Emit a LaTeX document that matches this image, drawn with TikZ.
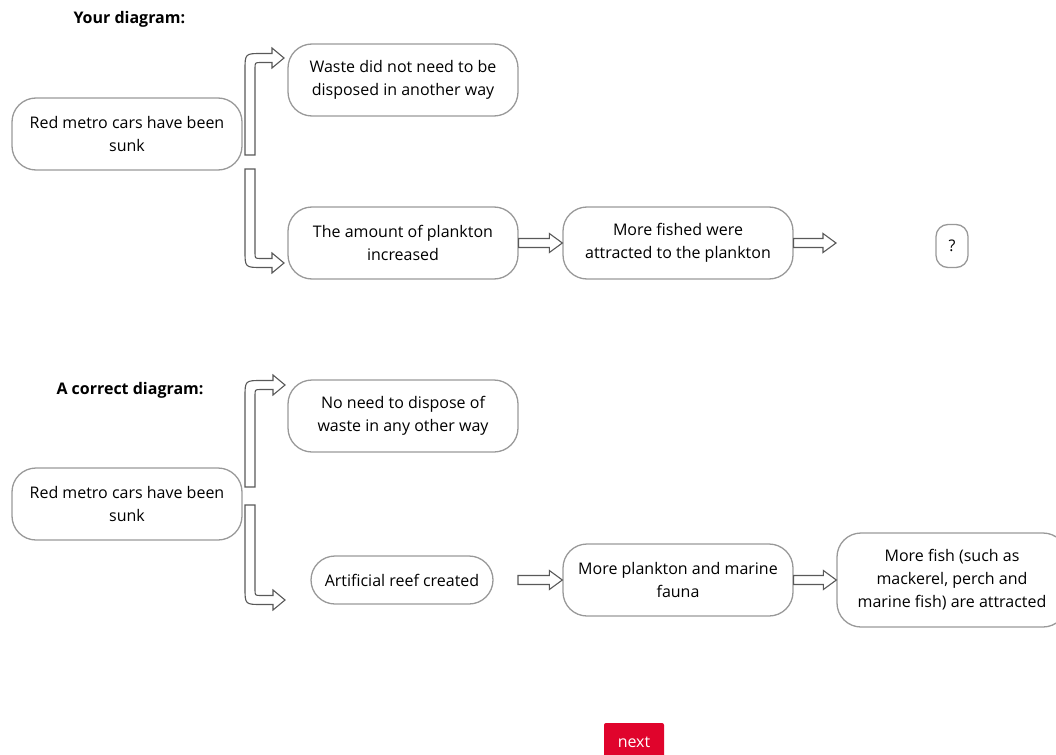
\documentclass[tikz,border=0pt]{standalone}
\usepackage{fontspec}
\setmainfont{Open Sans}
\usetikzlibrary{calc}
\definecolor{btnred}{RGB}{224,4,44}
\tikzset{
  box/.style={draw=gray!80, line width=1.3pt, rounded corners=24pt, align=center,
    minimum width=230pt, minimum height=72pt, inner sep=0pt,
    font=\fontsize{16}{23}\selectfont},
  title/.style={anchor=west, font=\bfseries\fontsize{16}{18}\selectfont},
  hollow/.style={draw=gray!70!black, line width=1.1pt, fill=white}
}
% полая стрелка
\newcommand\blockarrow[2]{%
  \draw[hollow] let \p1=(#1), \p2=(#2) in
    (\x1,{\y1+4.5pt}) -- ({\x2-13pt},{\y1+4.5pt}) -- ({\x2-13pt},{\y1+9.5pt}) -- (\x2,\y1)
    -- ({\x2-13pt},{\y1-9.5pt}) -- ({\x2-13pt},{\y1-4.5pt}) -- (\x1,{\y1-4.5pt}) -- cycle;}
% изогнутая стрелка, #3 = 1 вверх, -1 вниз
\newcommand\bentarrow[3]{%
  \draw[hollow] let \p1=(#1), \p2=(#2) in
    ({\x1-5pt},\y1) -- ({\x1-5pt},{\y2+(#3)*(4.5pt-17pt)})
    .. controls ({\x1-5pt},{\y2+(#3)*4.5pt}) .. ({\x1+12pt},{\y2+(#3)*4.5pt})
    -- ({\x2-12pt},{\y2+(#3)*4.5pt}) -- ({\x2-12pt},{\y2+(#3)*10pt}) -- (\x2,\y2)
    -- ({\x2-12pt},{\y2-(#3)*10pt}) -- ({\x2-12pt},{\y2-(#3)*4.5pt})
    -- ({\x1+11pt},{\y2-(#3)*4.5pt})
    .. controls ({\x1+5pt},{\y2-(#3)*4.5pt}) .. ({\x1+5pt},{\y2-(#3)*10.5pt})
    -- ({\x1+5pt},\y1) -- cycle;}
\begin{document}
\begin{tikzpicture}[x=1pt,y=-1pt]
\useasboundingbox (0,0) rectangle (1056,754);
%ваша схема
\node[title] (t1) at (70,19) {Your diagram:};
\node[box] (A1) at (127,134) {Red metro cars have been\\sunk};
\node[box] (A2) at (403,80) {Waste did not need to be\\disposed in another way};
\node[box] (A3) at (403,243) {The amount of plankton\\increased};
\node[box] (A4) at (678,243) {More fished were\\attracted to the plankton};
\node[box, minimum width=32pt, minimum height=43pt, rounded corners=12pt] (A5) at (952,246) {?};
%правильная схема
\node[title] (t2) at (53,390) {A correct diagram:};
\node[box] (B1) at (127,504) {Red metro cars have been\\sunk};
\node[box] (B2) at (403,416) {No need to dispose of\\waste in any other way};
\node[box, minimum width=182pt, minimum height=48pt] (B3) at (402,580) {Artificial reef created};
\node[box] (B4) at (678,580) {More plankton and marine\\fauna};
\node[box, minimum height=94pt] (B5) at (952,580) {More fish (such as\\mackerel, perch and\\marine fish) are attracted};
%кнопка
\node[fill=btnred, text=white, minimum width=60pt, minimum height=38pt, rounded corners=2pt,
  font=\fontsize{16}{18}\selectfont] (nx) at (634,742) {next};
%концы стрелок
\coordinate (a1) at (250,155);
\coordinate (a2) at (250,169);
\coordinate (ta1) at (284,58);
\coordinate (ta2) at (284,263);
\coordinate (qa) at (836,244);
\coordinate (b1) at (250,487);
\coordinate (b2) at (250,505);
\coordinate (tb1) at (285,385);
\coordinate (tb2) at (285,600);
\coordinate (rb) at (518,580);
%стрелки
\bentarrow{a1}{ta1}{1}
\bentarrow{a2}{ta2}{-1}
\bentarrow{b1}{tb1}{1}
\bentarrow{b2}{tb2}{-1}
\foreach \a/\b in {A3.east/A4.west, A4.east/qa, rb/B4.west, B4.east/B5.west}{
  \blockarrow{\a}{\b}
}
\end{tikzpicture}
\end{document}
